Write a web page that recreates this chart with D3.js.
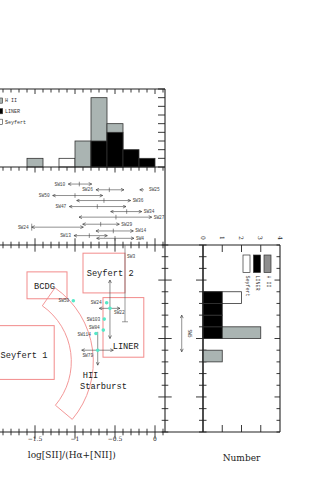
<!DOCTYPE html>
<html>
<head>
<meta charset="utf-8">
<script src="https://cdn.jsdelivr.net/npm/d3@7"></script>
<style>body{margin:0;background:#fff}</style>
</head>
<body>
<script>
// top histogram, bins of 0.2 in log[SII]/(Ha+[NII])
const topBinStart = [-1.6, -1.4, -1.2, -1.0, -0.8, -0.6, -0.4, -0.2]
const topHII = [1, 0, 0, 3, 8, 5, 0, 0]
const topLINER = [0, 0, 0, 0, 3, 4, 2, 1]
const topSeyfert = [0, 0, 1, 0, 0, 0, 0, 0]

// side histogram, bins of 0.1 on the vertical axis
const sideBinStart = [0.3, 0.4, 0.5, 0.6, 0.7, 0.8]
const sideHII = [1, 0, 3, 0, 0, 0]
const sideLINER = [0, 0, 1, 1, 1, 1]
const sideSeyfert = [0, 0, 0, 0, 0, 2]

// objects with only an x range (strip above the diagram)
const stripNames = ['SW10', 'SW26', 'SW25', 'SW50', 'SW36', 'SW47', 'SW34', 'SW27', 'SW29', 'SW24', 'SW14', 'SW13', 'SW4']
const stripRow = [3.06, 4.09, 4.09, 5.12, 6.02, 7.1, 8.0, 9.0, 10.27, 10.8, 11.48, 12.32, 12.8]
const stripLo = [-1.084, -0.738, -0.19, -1.279, -0.979, -1.071, -0.554, -0.95, -0.904, -1.541, -0.738, -1.013, -0.729]
const stripHi = [-0.791, -0.388, -0.138, -0.654, -0.304, -0.363, -0.166, -0.041, -0.446, -0.896, -0.271, -0.596, -0.263]
const stripMid = [-0.946, -0.571, null, -1.0, -0.638, -0.721, -0.354, -0.488, -0.679, -1.541, -0.521, -0.821, -0.5]

// points in the diagnostic diagram
const ptNames = ['SW59', 'SW24', 'SW22', 'SW103', 'SW84', 'SW114', 'SW79']
const ptX = [-1.021, -0.604, -0.563, -0.634, -0.646, -0.738, -0.716]
const ptY = [0.823, 0.806, 0.758, 0.666, 0.572, 0.543, 0.40]

const errNames = ['SW22', 'SW79']
const errXLo = [-0.696, -0.916]
const errXHi = [-0.438, -0.521]
const errYLo = [0.50, 0.272]
const errYHi = [1.0, 0.557]

// SW3: x known, only a lower y limit in the frame
const sw3X = -0.375
const sw3YLo = 0.643
// SW5: only a y range (side strip)
const sw5Pos = 0.44
const sw5YLo = 0.386
const sw5YHi = 0.70

// classification boxes
const boxNames = ['Seyfert 2', 'BCDG', 'LINER', 'Seyfert 1']
const boxX0 = [-0.9, -1.6, -0.65, -2.3]
const boxX1 = [-0.375, -1.1, -0.14, -1.26]
const boxY0 = [0.89, 0.84, 0.34, 0.15]
const boxY1 = [1.23, 1.07, 0.85, 0.61]
const boxTextX = [-0.854, -1.5125, -0.529, -1.93]
const boxTextY = [1.039, 0.924, 0.406, 0.329]

// HII / starburst band (centre and radii in x units)
const hiiCentre = [-1.896, 0.303]
const hiiRadii = [0.85, 1.125]
const hiiAngles = [35, 130]
const hiiText = ['HII', 'Starburst']
const hiiTextX = [-0.904, -0.9375]
const hiiTextY = [0.158, 0.072]

const xTickLabels = [-1.5, -1, -0.5, 0]
const numTickLabels = [0, 1, 2, 3, 4]

const W = 322, H = 503
const ink = '#222'
const red = '#f28b8b'
const grey = '#aab4b2'
const cyan = '#55e8c8'
const mono = 'Liberation Mono, DejaVu Sans Mono, monospace'
const serif = 'DejaVu Serif, Liberation Serif, serif'

const svg = d3.select('body').append('svg')
    .attr('width', W)
    .attr('height', H)
svg.append('rect').attr('width', W).attr('height', H).attr('fill', '#fff')

const x = d3.scaleLinear().domain([-2.2, 0.125]).range([-21, 165])
const yTop = d3.scaleLinear().domain([0, 9]).range([167, 89])
const yMid = d3.scaleLinear().domain([0, 14]).range([167, 245])
const y = d3.scaleLinear().domain([-0.3, 1.3]).range([432, 245])
const xCol = d3.scaleLinear().domain([0, 1]).range([165, 203])
const xNum = d3.scaleLinear().domain([0, 4]).range([203, 280])

const defs = svg.append('defs')
const mk = defs.append('marker')
    .attr('id', 'arr')
    .attr('viewBox', '-4 -2 5 4')
    .attr('refX', 0).attr('refY', 0)
    .attr('markerWidth', 5).attr('markerHeight', 4)
    .attr('markerUnits', 'userSpaceOnUse')
    .attr('orient', 'auto-start-reverse')
mk.append('path').attr('d', 'M-3,-1.5L0,0L-3,1.5')
    .attr('fill', 'none').attr('stroke', '#333').attr('stroke-width', 0.6)

defs.append('clipPath').attr('id', 'clipMain')
    .append('rect').attr('x', -30).attr('y', 245).attr('width', 195).attr('height', 187)

const xTicks = d3.range(-22, 2).map(i => i / 10)
const yTicks = d3.range(-3, 14).map(i => i / 10)
const isMajor = v => Math.abs(v * 2 - Math.round(v * 2)) < 1e-6

function hTicks(g, ypos, vals, scale, up, down, mUp, mDown) {
    g.selectAll(null).data(vals).enter().append('line')
        .attr('x1', d => scale(d)).attr('x2', d => scale(d))
        .attr('y1', d => ypos - (isMajor(d) ? mUp : up))
        .attr('y2', d => ypos + (isMajor(d) ? mDown : down))
        .attr('stroke', ink).attr('stroke-width', 0.9)
}

function vTicks(g, xpos, vals, scale, left, right, mLeft, mRight) {
    g.selectAll(null).data(vals).enter().append('line')
        .attr('y1', d => scale(d)).attr('y2', d => scale(d))
        .attr('x1', d => xpos - (isMajor(d) ? mLeft : left))
        .attr('x2', d => xpos + (isMajor(d) ? mRight : right))
        .attr('stroke', ink).attr('stroke-width', 0.9)
}

function frameLine(g, x1, y1, x2, y2) {
    g.append('line').attr('x1', x1).attr('y1', y1).attr('x2', x2).attr('y2', y2)
        .attr('stroke', ink).attr('stroke-width', 1.1)
}

// ---------- top histogram ----------
const gTop = svg.append('g')
function topBars(counts, fill) {
    gTop.selectAll(null).data(topBinStart.map((b, i) => ({b, c: counts[i]})).filter(d => d.c > 0))
        .enter().append('rect')
        .attr('x', d => x(d.b))
        .attr('width', d => x(d.b + 0.2) - x(d.b))
        .attr('y', d => yTop(d.c))
        .attr('height', d => yTop(0) - yTop(d.c))
        .attr('fill', fill).attr('stroke', '#333').attr('stroke-width', 0.8)
}
topBars(topSeyfert, '#fff')
topBars(topHII, grey)
topBars(topLINER, '#000')

hTicks(gTop, yTop(9), xTicks, x, 0, 3.5, 0, 5)
vTicks(gTop, x(0.125), d3.range(0, 10), yTop, 3, 0, 7, 0)
frameLine(gTop, -30, yTop(9), 165, yTop(9))
frameLine(gTop, 165, yTop(9), 165, yTop(0))
frameLine(gTop, -30, yTop(0), 165, yTop(0))

// legend
const legTop = [['H II', grey], ['LINER', '#000'], ['Seyfert', '#fff']]
legTop.forEach((d, i) => {
    gTop.append('rect').attr('x', -4).attr('y', 98 + i * 10.6).attr('width', 6.7).attr('height', 5.2)
        .attr('fill', d[1]).attr('stroke', '#333').attr('stroke-width', 0.6)
    gTop.append('text').attr('x', 5).attr('y', 102.4 + i * 10.6).text(d[0])
        .attr('font-family', mono).attr('font-size', 5).attr('fill', '#333')
})

// ---------- middle strip ----------
const gMid = svg.append('g')
hTicks(gMid, yTop(0), xTicks, x, 0, 3.7, 0, 5.5)
hTicks(gMid, 245, xTicks, x, 3.3, 3.3, 6.7, 6.7)
frameLine(gMid, 165, 167, 165, 245)
frameLine(gMid, -30, 245, 203, 245)

const rightLabel = new Set(['SW25', 'SW36', 'SW34', 'SW27', 'SW29', 'SW14', 'SW4'])
stripNames.forEach((n, i) => {
    const yy = yMid(stripRow[i])
    gMid.append('line')
        .attr('x1', x(stripLo[i])).attr('x2', x(stripHi[i]))
        .attr('y1', yy).attr('y2', yy)
        .attr('stroke', '#444').attr('stroke-width', 0.6)
        .attr('marker-start', 'url(#arr)')
        .attr('marker-end', n === 'SW25' ? null : 'url(#arr)')
    if (stripMid[i] !== null) {
        const h = n === 'SW24' ? 3.5 : 2.3
        gMid.append('line')
            .attr('x1', x(stripMid[i])).attr('x2', x(stripMid[i]))
            .attr('y1', yy - h).attr('y2', yy + h)
            .attr('stroke', '#444').attr('stroke-width', 0.6)
    }
    const right = rightLabel.has(n)
    gMid.append('text')
        .attr('x', right ? x(stripHi[i]) + (n === 'SW25' ? 5 : 2) : x(stripLo[i]) - 3)
        .attr('y', yy + 1.5)
        .attr('text-anchor', right ? 'start' : 'end')
        .attr('font-family', mono).attr('font-size', 4.5).attr('fill', '#444')
        .text(n)
})

// ---------- main diagram ----------
const gMain = svg.append('g')
const gClip = gMain.append('g').attr('clip-path', 'url(#clipMain)')

boxNames.forEach((n, i) => {
    gClip.append('rect')
        .attr('x', x(boxX0[i])).attr('y', y(boxY1[i]))
        .attr('width', x(boxX1[i]) - x(boxX0[i]))
        .attr('height', y(boxY0[i]) - y(boxY1[i]))
        .attr('fill', 'none').attr('stroke', red).attr('stroke-width', 1)
})

const rPx = r => x(hiiCentre[0] + r) - x(hiiCentre[0])
const band = d3.arc()
    .innerRadius(rPx(hiiRadii[0]))
    .outerRadius(rPx(hiiRadii[1]))
    .startAngle(hiiAngles[0] * Math.PI / 180)
    .endAngle(hiiAngles[1] * Math.PI / 180)
gClip.append('path')
    .attr('d', band())
    .attr('transform', `translate(${x(hiiCentre[0])},${y(hiiCentre[1])})`)
    .attr('fill', 'none').attr('stroke', red).attr('stroke-width', 0.9)

boxNames.forEach((n, i) => {
    gClip.append('text').attr('x', x(boxTextX[i])).attr('y', y(boxTextY[i]))
        .attr('font-family', mono).attr('font-size', 8.7).attr('fill', '#222').text(n)
})
hiiText.forEach((t, i) => {
    gClip.append('text').attr('x', x(hiiTextX[i])).attr('y', y(hiiTextY[i]))
        .attr('font-family', mono).attr('font-size', 8.7).attr('fill', '#222').text(t)
})

// error bars
errNames.forEach((n, i) => {
    const j = ptNames.indexOf(n)
    gClip.append('line')
        .attr('x1', x(errXLo[i])).attr('x2', x(errXHi[i]))
        .attr('y1', y(ptY[j])).attr('y2', y(ptY[j]))
        .attr('stroke', '#444').attr('stroke-width', 0.6)
        .attr('marker-start', 'url(#arr)').attr('marker-end', 'url(#arr)')
    gClip.append('line')
        .attr('x1', x(ptX[j])).attr('x2', x(ptX[j]))
        .attr('y1', y(errYHi[i])).attr('y2', y(errYLo[i]))
        .attr('stroke', '#444').attr('stroke-width', 0.6)
        .attr('marker-start', n === 'SW79' ? null : 'url(#arr)').attr('marker-end', 'url(#arr)')
})

// SW3
gClip.append('line')
    .attr('x1', x(sw3X)).attr('x2', x(sw3X))
    .attr('y1', y(1.35)).attr('y2', y(sw3YLo))
    .attr('stroke', '#555').attr('stroke-width', 0.6)
gClip.append('line')
    .attr('x1', x(sw3X) - 3).attr('x2', x(sw3X) + 3)
    .attr('y1', y(sw3YLo)).attr('y2', y(sw3YLo))
    .attr('stroke', '#555').attr('stroke-width', 0.6)
gClip.append('text').attr('x', x(sw3X) + 2).attr('y', y(1.19))
    .attr('font-family', mono).attr('font-size', 4.5).attr('fill', '#444').text('SW3')

// points
gClip.selectAll('.pt').data(ptNames.map((n, i) => ({n, x: ptX[i], y: ptY[i]})))
    .enter().append('circle')
    .attr('cx', d => x(d.x)).attr('cy', d => y(d.y)).attr('r', 1.8)
    .attr('fill', cyan)

const ptLabel = {
    SW59: [-4, 1.5, 'end'], SW24: [-5, 1.5, 'end'], SW22: [4, 5.5, 'start'],
    SW103: [-4, 1.6, 'end'], SW84: [-3.5, -1.5, 'end'], SW114: [-5, 2.5, 'end'],
    SW79: [-4.5, 7, 'end']
}
ptNames.forEach((n, i) => {
    const o = ptLabel[n]
    gClip.append('text').attr('x', x(ptX[i]) + o[0]).attr('y', y(ptY[i]) + o[1])
        .attr('text-anchor', o[2])
        .attr('font-family', mono).attr('font-size', 4.5).attr('fill', '#444').text(n)
})

// main frame and ticks
hTicks(gMain, 432, xTicks, x, 3.3, 3.3, 6.7, 6.7)
vTicks(gMain, 165, yTicks, y, 3.3, 3.3, 6.7, 6.7)
frameLine(gMain, 165, 245, 165, 432)
frameLine(gMain, -30, 432, 280, 432)

gMain.selectAll('.xl').data(xTickLabels).enter().append('text')
    .attr('x', d => x(d)).attr('y', 440.5)
    .attr('text-anchor', 'middle')
    .attr('font-family', serif).attr('font-size', 6).attr('fill', '#222')
    .text(d => d === 0 ? '0' : '\u2212' + Math.abs(d))

svg.append('text').attr('x', 71.7).attr('y', 457.5).attr('text-anchor', 'middle')
    .attr('font-family', serif).attr('font-size', 9).attr('fill', '#222')
    .text('log[SII]/(H\u03b1+[NII])')

// ---------- side strip (SW5) ----------
const gCol = svg.append('g')
vTicks(gCol, 203, yTicks, y, 4, 3.5, 7, 3.5)
frameLine(gCol, 203, 245, 203, 432)
gCol.append('line')
    .attr('x1', xCol(sw5Pos)).attr('x2', xCol(sw5Pos))
    .attr('y1', y(sw5YHi)).attr('y2', y(sw5YLo))
    .attr('stroke', '#444').attr('stroke-width', 0.6)
    .attr('marker-start', 'url(#arr)').attr('marker-end', 'url(#arr)')
gCol.append('text')
    .attr('transform', `translate(${xCol(sw5Pos) + 7.5},${y((sw5YLo + sw5YHi) / 2)}) rotate(90)`)
    .attr('text-anchor', 'middle').attr('dominant-baseline', 'central')
    .attr('font-family', mono).attr('font-size', 4.5).attr('fill', '#444').text('SW5')

// ---------- side histogram ----------
const gNum = svg.append('g')
function sideBars(counts, fill) {
    gNum.selectAll(null).data(sideBinStart.map((b, i) => ({b, c: counts[i]})).filter(d => d.c > 0))
        .enter().append('rect')
        .attr('x', xNum(0))
        .attr('width', d => xNum(d.c) - xNum(0))
        .attr('y', d => y(d.b + 0.1))
        .attr('height', d => y(d.b) - y(d.b + 0.1))
        .attr('fill', fill).attr('stroke', '#333').attr('stroke-width', 0.8)
}
sideBars(sideSeyfert, '#fff')
sideBars(sideHII, grey)
sideBars(sideLINER, '#000')

vTicks(gNum, 280, yTicks, y, 3.5, 0, 5.5, 0)
hTicks(gNum, 245, [1, 2, 3], xNum, 0, 7, 0, 7)
hTicks(gNum, 432, [1, 2, 3], xNum, 7, 0, 7, 0)
frameLine(gNum, 203, 245, 280, 245)
frameLine(gNum, 280, 245, 280, 432)
frameLine(gNum, 203, 245, 203, 432)

gNum.selectAll('.nl').data(numTickLabels).enter().append('text')
    .attr('transform', d => `translate(${xNum(d)},238) rotate(90)`)
    .attr('text-anchor', 'middle').attr('dominant-baseline', 'central')
    .attr('font-family', serif).attr('font-size', 6).attr('fill', '#222')
    .text(d => d)

const legSide = [['Seyfert', '#fff'], ['LINER', '#000'], ['H II', '#8e8e8e']]
legSide.forEach((d, i) => {
    const lx = 243 + i * 10.5
    gNum.append('rect').attr('x', lx).attr('y', 255).attr('width', 7).attr('height', 17.5)
        .attr('fill', d[1]).attr('stroke', '#333').attr('stroke-width', 0.7)
    gNum.append('text')
        .attr('transform', `translate(${lx + 3.5},275.5) rotate(90)`)
        .attr('dominant-baseline', 'central')
        .attr('font-family', mono).attr('font-size', 5).attr('fill', '#333').text(d[0])
})

svg.append('text').attr('x', 241.5).attr('y', 461).attr('text-anchor', 'middle')
    .attr('font-family', serif).attr('font-size', 9).attr('fill', '#222')
    .text('Number')
</script>
</body>
</html>
